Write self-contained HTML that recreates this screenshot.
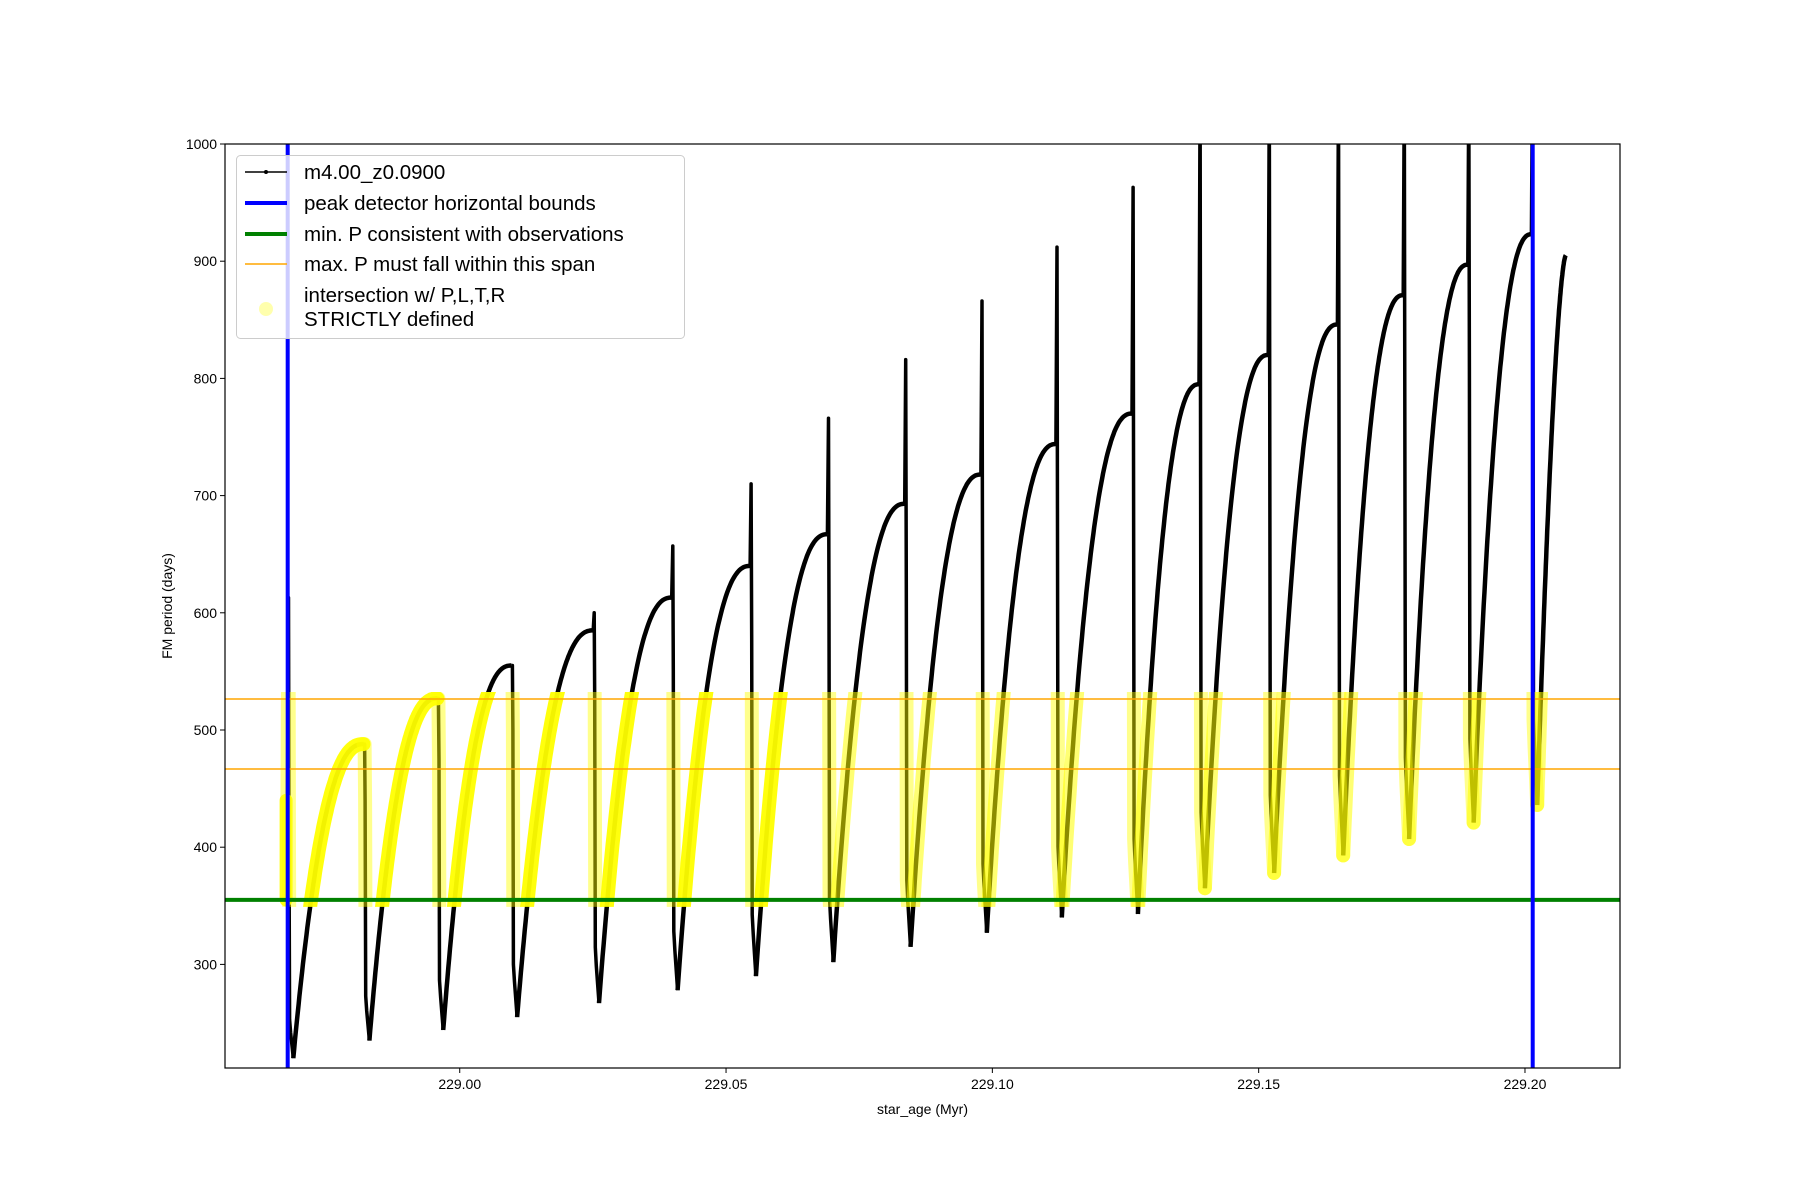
<!DOCTYPE html>
<html><head><meta charset="utf-8"><style>
body{margin:0;background:#fff;}
svg{display:block;font-family:"Liberation Sans","DejaVu Sans",sans-serif;}
</style></head><body>
<svg id="chart" width="1800" height="1200" xmlns="http://www.w3.org/2000/svg">
<defs><clipPath id="plotclip"><rect x="225" y="144" width="1395" height="924"/></clipPath>
<clipPath id="bandclip"><rect id="bandrect" x="225" y="0" width="1395" height="0"/></clipPath></defs>
<rect x="0" y="0" width="1800" height="1200" fill="#fff"/>
<g id="marks" clip-path="url(#plotclip)"></g>
<g id="axes"></g>
</svg>
<script>
const dropAges=[228.96785,228.98214,228.99600,229.00988,229.02525,229.04000,229.05471,229.06923,229.08374,229.09805,229.11213,229.12642,229.13900,229.15199,229.16498,229.17734,229.18946,229.20140];
const peakPeriods=[440,488,527,555,585,613,640,667,693,718,744,770,795,820,846,871,897,923];
const spikePeriods=[613,488,527,555,600,657,710,766,816,866,912,963,1050,1050,1050,1050,1050,1050];
const minPeriods=[220,235,244,255,267,278,290,302,315,327,340,343,365,378,393,407,421,436];
const startAge=228.9674;
const endAge=229.20767;
const endPeriod=905;
const boundAges=[228.9677,229.20145];
const minObsPeriod=355;
const spanPeriods=[466.7,526.5];
const xTicks=[229.00,229.05,229.10,229.15,229.20];
const yTicks=[300,400,500,600,700,800,900,1000];

const L=225,R=1620,T=144,B=1068;
const XMIN=228.95593,XMAX=229.21784,YMIN=211.6,YMAX=1000;
function X(v){return L+(v-XMIN)/(XMAX-XMIN)*(R-L);}
function Y(v){return B-(v-YMIN)/(YMAX-YMIN)*(B-T);}
const NS="http://www.w3.org/2000/svg";
function mk(tag,attrs,parent){const e=document.createElementNS(NS,tag);for(const k in attrs)e.setAttribute(k,attrs[k]);parent.appendChild(e);return e;}
const marks=document.getElementById('marks');
const axes=document.getElementById('axes');

const rises=[],drops=[];
const dlt=0.0009;
for(let i=0;i<dropAges.length;i++){
  const t=dropAges[i],pk=peakPeriods[i],sp=spikePeriods[i],mn=minPeriods[i];
  const d=[[t-0.0002,pk],[t,sp],[t+0.0001,pk*0.9],[t+0.0002,mn+(pk-mn)*0.15],[t+0.0004,mn+(pk-mn)*0.1],[t+dlt,mn]];
  drops.push(d);
  const t0=t+dlt;
  const t1=i+1<dropAges.length?dropAges[i+1]-0.0002:endAge;
  const p1=i+1<dropAges.length?peakPeriods[i+1]:endPeriod;
  const k=i+1<dropAges.length?2.4:1.6;
  const r=[];
  for(let j=0;j<=80;j++){const u=j/80;r.push([t0+(t1-t0)*u,mn+(p1-mn)*(1-Math.pow(1-u,k))]);}
  rises.push(r);
}
const pts=a=>a.map(p=>X(p[0]).toFixed(1)+','+Y(p[1]).toFixed(1)).join(' ');

const first=mk('polyline',{points:pts([[startAge,peakPeriods[0]],[dropAges[0]-0.0002,peakPeriods[0]]]),fill:'none',stroke:'#000','stroke-width':2},marks);


drops.forEach(d=>{const e=mk('polyline',{points:pts(d),fill:'none',stroke:'#000','stroke-width':3.5,'stroke-linejoin':'round'},marks);

});
rises.forEach(r=>{const e=mk('polyline',{points:pts(r),fill:'none',stroke:'#000','stroke-width':4.5,'stroke-linejoin':'round'},marks);

});

const br=document.getElementById('bandrect');
br.setAttribute('y',Y(spanPeriods[1])-7);br.setAttribute('height',Y(minObsPeriod)-Y(spanPeriods[1])+14);
const yg=mk('g',{'clip-path':'url(#bandclip)'},marks);


rises.forEach((r,i)=>{const e=mk('polyline',{points:pts(r),fill:'none',stroke:'#ffff00','stroke-width':14,'stroke-linecap':'round','stroke-linejoin':'round',opacity:i<7?0.95:0.55},yg);

});
drops.forEach(d=>{const e=mk('polyline',{points:pts(d),fill:'none',stroke:'#ffff00','stroke-width':14,'stroke-linecap':'round','stroke-linejoin':'round',opacity:0.45},yg);

});
const sd=mk('line',{x1:X(startAge),x2:X(startAge),y1:Y(peakPeriods[0]),y2:Y(minObsPeriod),stroke:'#ffff00','stroke-width':13,'stroke-linecap':'round',opacity:0.9},marks);



spanPeriods.forEach(v=>{const e=mk('line',{x1:L,x2:R,y1:Y(v),y2:Y(v),stroke:'#ffa500','stroke-width':1.5},marks);

});
const g=mk('line',{x1:L,x2:R,y1:Y(minObsPeriod),y2:Y(minObsPeriod),stroke:'#008000','stroke-width':4},marks);


boundAges.forEach(v=>{const e=mk('line',{x1:X(v),x2:X(v),y1:T,y2:B,stroke:'#0000ff','stroke-width':4},marks);

});

const fr=mk('rect',{x:L,y:T,width:R-L,height:B-T,fill:'none',stroke:'#000','stroke-width':1.2},axes);


xTicks.forEach(v=>{const x=X(v);mk('line',{x1:x,x2:x,y1:B,y2:B+5,stroke:'#000','stroke-width':1},axes);
const t=mk('text',{x:x,y:B+21,'text-anchor':'middle','font-size':14},axes);t.textContent=v.toFixed(2);

});
yTicks.forEach(v=>{const y=Y(v);mk('line',{x1:L-5,x2:L,y1:y,y2:y,stroke:'#000','stroke-width':1},axes);
const t=mk('text',{x:L-8,y:y+5,'text-anchor':'end','font-size':14},axes);t.textContent=v;

});
const xl=mk('text',{x:(L+R)/2,y:1114,'text-anchor':'middle','font-size':14},axes);xl.textContent='star_age (Myr)';


const yl=mk('text',{x:172,y:(T+B)/2,'text-anchor':'middle','font-size':14,transform:'rotate(-90 172 '+((T+B)/2)+')'},axes);yl.textContent='FM period (days)';



const lg=mk('g',{},axes);


mk('rect',{x:236.5,y:155.5,width:448,height:183,rx:4,fill:'#fff','fill-opacity':0.8,stroke:'#ccc','stroke-width':1},lg);
const entries=[['m4.00_z0.0900',172],['peak detector horizontal bounds',203],['min. P consistent with observations',234],['max. P must fall within this span',264]];
mk('line',{x1:245,x2:287,y1:172,y2:172,stroke:'#000','stroke-width':1.5},lg);mk('circle',{cx:266,cy:172,r:2,fill:'#000'},lg);
mk('line',{x1:245,x2:287,y1:203,y2:203,stroke:'#0000ff','stroke-width':4},lg);
mk('line',{x1:245,x2:287,y1:234,y2:234,stroke:'#008000','stroke-width':4},lg);
mk('line',{x1:245,x2:287,y1:264,y2:264,stroke:'#ffa500','stroke-width':1.5},lg);
mk('circle',{cx:266,cy:309,r:7,fill:'#ffff99',opacity:0.8},lg);
entries.forEach(e=>{const t=mk('text',{x:304,y:e[1]+7,'font-size':20.5,fill:'#000'},lg);t.textContent=e[0];

});
const t5=mk('text',{x:304,y:302,'font-size':20.5},lg);t5.textContent='intersection w/ P,L,T,R';


const t6=mk('text',{x:304,y:326,'font-size':20.5},lg);t6.textContent='STRICTLY defined';


</script>
</body></html>
